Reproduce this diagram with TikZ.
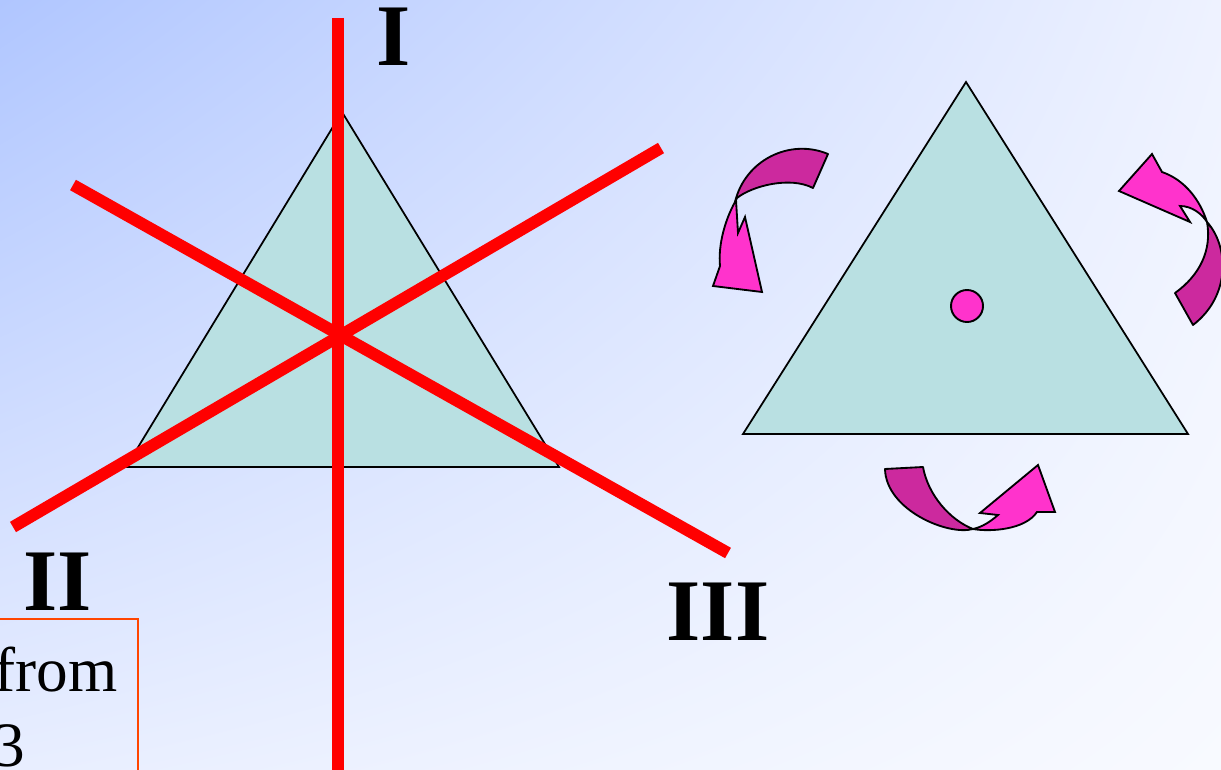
\documentclass[tikz,border=0pt]{standalone}
\usepackage{fontspec}
\setmainfont{Liberation Serif}
\definecolor{bgA}{RGB}{176,198,255}
\definecolor{bgB}{RGB}{238,242,255}
\definecolor{bgC}{RGB}{232,238,255}
\definecolor{bgD}{RGB}{248,250,255}
\definecolor{trifill}{RGB}{185,224,226}
\definecolor{axisred}{RGB}{255,0,0}
\definecolor{arrowdark}{RGB}{204,41,158}
\definecolor{arrowlight}{RGB}{255,51,204}
\definecolor{boxline}{RGB}{255,69,0}
\usetikzlibrary{positioning,shadings}

\begin{document}
\begin{tikzpicture}[x=0.02cm, y=-0.02cm,
  tri/.style={draw=black, fill=trifill, line width=1pt, line join=miter},
  axisline/.style={draw=axisred, line width=6.8pt},
  numeral/.style={font=\fontsize{50}{56}\selectfont\bfseries, inner sep=0pt},
  boxtext/.style={font=\fontsize{36}{44}\selectfont, inner sep=0pt},
  darkpart/.style={draw=black, fill=arrowdark, line width=1.05pt, line join=round},
  lightpart/.style={draw=black, fill=arrowlight, line width=1.05pt, line join=miter}]
  \useasboundingbox (0,0) rectangle (1221,770);
  \shade[upper left=bgA, upper right=bgB, lower left=bgC, lower right=bgD] (0,0) rectangle (1221,770);

  % left triangle and its three axes
  \coordinate (lt) at (342,112);
  \coordinate (ll) at (126,467);
  \coordinate (lr) at (559,467);
  \draw[tri] (lt) -- (ll) -- (lr) -- cycle;
  \coordinate (ax1a) at (338,18);
  \coordinate (ax1b) at (338,775);
  \coordinate (ax2a) at (13,527);
  \coordinate (ax2b) at (661,148);
  \coordinate (ax3a) at (73,185);
  \coordinate (ax3b) at (728,553);
  \draw[axisline] (ax1a) -- (ax1b);
  \draw[axisline] (ax2a) -- (ax2b);
  \draw[axisline] (ax3a) -- (ax3b);
  \node[numeral] (lblI) at (394,37) {I};
  \node[numeral] (lblII) at (58,582) {II};
  \node[numeral] (lblIII) at (718,612) {III};

  % text box, cut by the page edge
  \draw[draw=boxline, line width=0.9pt] (-10,619) rectangle (138,780);
  \node[boxtext, anchor=base east] (txtfrom) at (118,691) {from};
  \node[boxtext, anchor=base east] (txtthree) at (25,766) {3};

  % right triangle with its centre
  \coordinate (rt) at (966,82);
  \coordinate (rl) at (743,434);
  \coordinate (rr) at (1188,434);
  \draw[tri] (rt) -- (rl) -- (rr) -- cycle;
  \draw[draw=black, fill=arrowlight, line width=1.1pt] (967,306) circle (16);

  % curved arrows
  \draw[darkpart] (828,154) .. controls (790,138) and (745,160) .. (735,202)
    -- (737,198) .. controls (752,186) and (790,176) .. (813,188) -- cycle;
  \draw[lightpart] (735,202) .. controls (725,220) and (718,245) .. (720,266)
    -- (713,286) -- (762,292) -- (745,217) -- (738,233) -- (736,200) -- cycle;

  \draw[darkpart] (1207,222) .. controls (1228,245) and (1232,295) .. (1193,325)
    -- (1175,293) .. controls (1200,275) and (1212,250) .. (1207,222) -- cycle;
  \draw[lightpart] (1152,154) -- (1119,191) -- (1190,222) -- (1180,206)
    .. controls (1192,206) and (1202,214) .. (1207,222)
    .. controls (1200,200) and (1185,180) .. (1162,172) -- cycle;

  \draw[darkpart] (885,469) -- (923,467) .. controls (928,495) and (950,520) .. (973,529)
    .. controls (948,536) and (886,510) .. (885,469) -- cycle;
  \draw[lightpart] (973,529) .. controls (990,532) and (1025,530) .. (1037,512)
    -- (1055,512) -- (1038,465) -- (980,513) -- (998,515)
    .. controls (990,522) and (982,527) .. (973,529) -- cycle;
\end{tikzpicture}
\end{document}
